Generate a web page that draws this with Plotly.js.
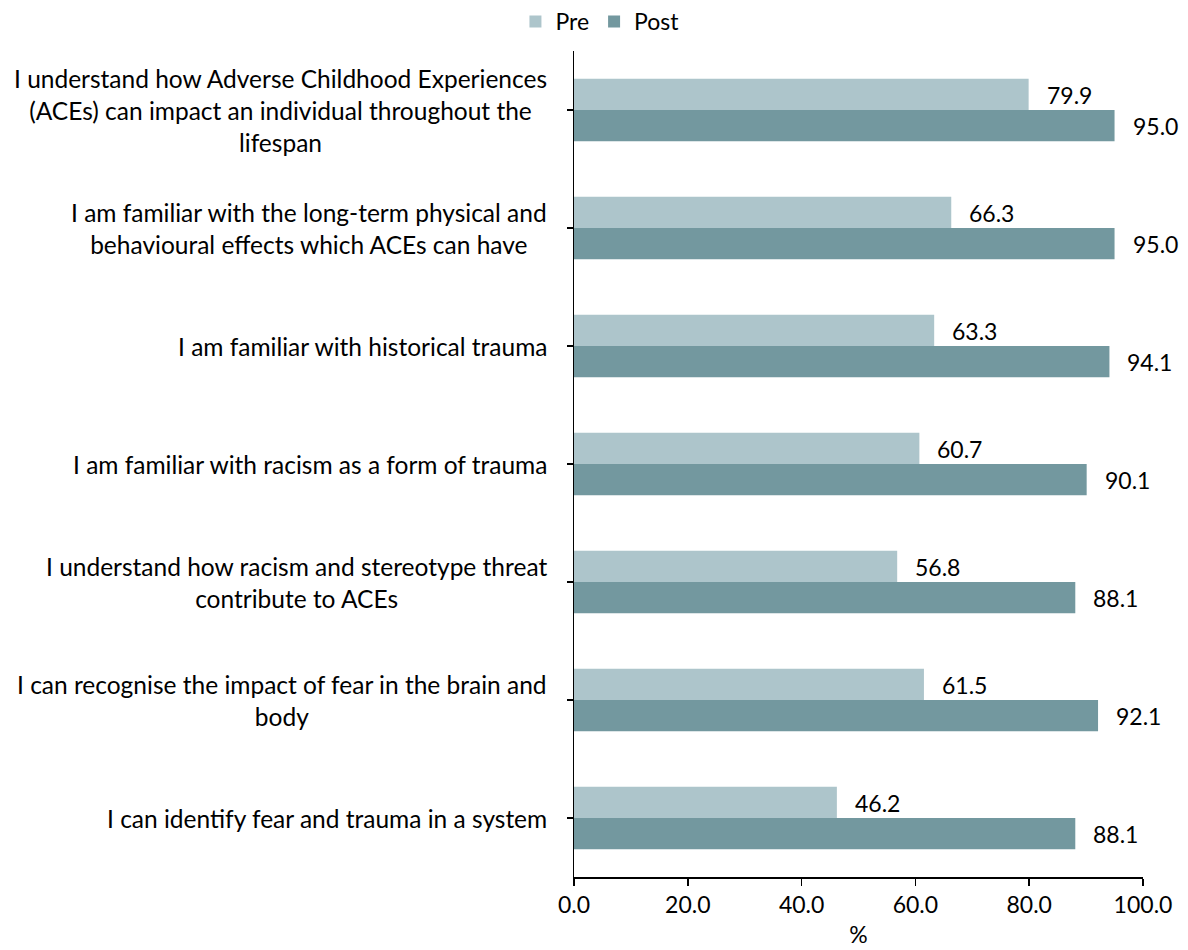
<!DOCTYPE html>
<html>
<head>
<meta charset="utf-8">
<script src="https://cdn.plot.ly/plotly-3.0.1.min.js"></script>
<style>
  html, body { margin: 0; padding: 0; background: #ffffff; }
  #chart { width: 1188px; height: 950px; }
</style>
</head>
<body>
<div id="chart"></div>
<script>
// Survey statements, top to bottom
const statements = [
  "I understand how Adverse Childhood Experiences<br>(ACEs) can impact an individual throughout the<br>lifespan",
  "I am familiar with the long-term physical and<br>behavioural effects which ACEs can have",
  "I am familiar with historical trauma",
  "I am familiar with racism as a form of trauma",
  "I understand how racism and stereotype threat<br>contribute to ACEs",
  "I can recognise the impact of fear in the brain and<br>body",
  "I can identify fear and trauma in a system"
];
const preValues = [79.9, 66.3, 63.3, 60.7, 56.8, 61.5, 46.2];
const postValues = [95.0, 95.0, 94.1, 90.1, 88.1, 92.1, 88.1];
const xTickValues = [0, 20, 40, 60, 80, 100];

const FONT = "Lato, 'Open Sans', 'Noto Sans', sans-serif";
const PRE_COLOR = "#adc5cb";
const POST_COLOR = "#73989f";
const LABEL_SIZE = 24.5;
const NUM_SIZE = 23;

const traces = [
  { type: "bar", orientation: "h", name: "Pre", y: statements, x: preValues,
    marker: { color: PRE_COLOR }, hoverinfo: "x" },
  { type: "bar", orientation: "h", name: "Post", y: statements, x: postValues,
    marker: { color: POST_COLOR }, hoverinfo: "x" }
];

const annotations = [];
statements.forEach((s, i) => {
  // Category label, lines centred on each other, block right-aligned to the axis
  annotations.push({ x: 0, xref: "paper", y: s, yref: "y", text: s,
    showarrow: false, xanchor: "right", align: "center", xshift: -25,
    font: { family: FONT, size: LABEL_SIZE, color: "#000" } });
  // Value labels just past the end of each bar
  annotations.push({ x: preValues[i], y: s, yshift: 15, xref: "x", yref: "y",
    text: preValues[i].toFixed(1), showarrow: false, xanchor: "left", xshift: 16,
    font: { family: FONT, size: NUM_SIZE, color: "#000" } });
  annotations.push({ x: postValues[i], y: s, yshift: -16, xref: "x", yref: "y",
    text: postValues[i].toFixed(1), showarrow: false, xanchor: "left", xshift: 16,
    font: { family: FONT, size: NUM_SIZE, color: "#000" } });
});

const layout = {
  width: 1188, height: 950,
  margin: { l: 574, r: 45, t: 51, b: 73 },
  paper_bgcolor: "#ffffff", plot_bgcolor: "#ffffff",
  font: { family: FONT, size: NUM_SIZE, color: "#000" },
  barmode: "group", bargap: 0.47, bargroupgap: 0,
  showlegend: true,
  legend: { orientation: "h", x: 0.505, xanchor: "center", xref: "container",
    y: 1.0, yanchor: "top", yref: "container", font: { family: FONT, size: NUM_SIZE },
    itemwidth: 30, traceorder: "normal", tracegroupgap: 0 },
  xaxis: {
    range: [0, 100], tickvals: xTickValues,
    ticktext: xTickValues.map(v => v.toFixed(1)),
    showgrid: false, zeroline: false, showline: true, linecolor: "#000", linewidth: 1.5,
    ticks: "outside", ticklen: 7, tickcolor: "#000", tickwidth: 1.5,
    tickfont: { family: FONT, size: NUM_SIZE },
    title: { text: "%", font: { family: FONT, size: NUM_SIZE }, standoff: 10 },
    fixedrange: true
  },
  yaxis: {
    autorange: "reversed", showgrid: false, zeroline: false,
    showline: true, linecolor: "#000", linewidth: 1.5,
    ticks: "outside", ticklen: 6, tickcolor: "#000", tickwidth: 1.5,
    showticklabels: false,
    fixedrange: true
  },
  annotations: annotations
};

Plotly.newPlot("chart", traces, layout, { displayModeBar: false, staticPlot: true });
</script>
</body>
</html>
